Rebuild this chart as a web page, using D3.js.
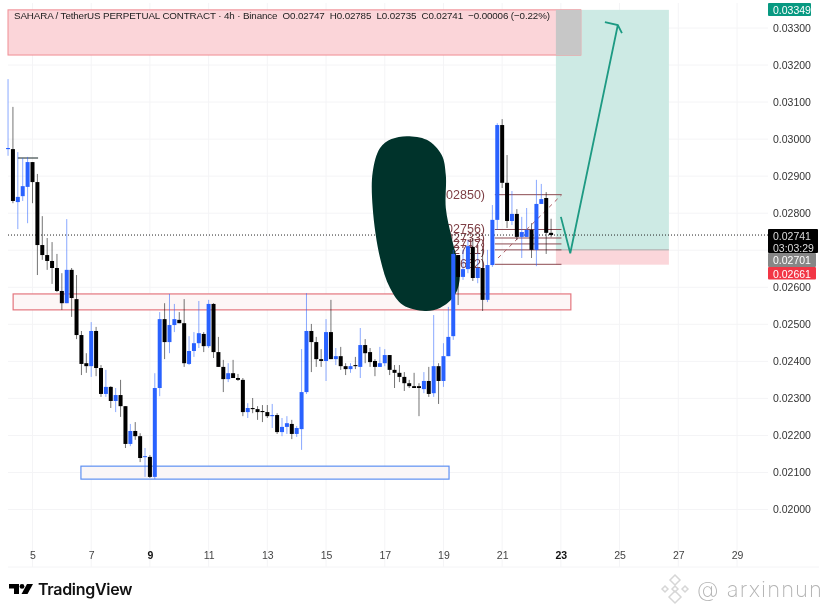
<!DOCTYPE html>
<html>
<head>
<meta charset="utf-8">
<script src="https://cdn.jsdelivr.net/npm/d3@7"></script>
<style>
  html, body { margin: 0; padding: 0; background: #fff; }
  svg { display: block; filter: blur(0.45px); font-family: "Liberation Sans", sans-serif; }
</style>
</head>
<body>
<div id="chart"></div>
<script>
// 4h candles, first one sits at firstDay and the rest follow every 1/6 day
var firstDay = 4.1667;
var opens = [
  0.02973,0.02973,0.02830,0.02846,0.02871,0.02938,0.02884,0.02714,0.02687,0.02671,
  0.02652,0.02590,0.02557,0.02647,0.02568,0.02471,0.02395,0.02387,0.02482,0.02382,
  0.02312,0.02331,0.02293,0.02309,0.02279,0.02177,0.02212,0.02198,0.02142,0.02142,
  0.02088,0.02328,0.02514,0.02452,0.02498,0.02512,0.02503,0.02393,0.02428,0.02449,
  0.02474,0.02441,0.02555,0.02425,0.02385,0.02352,0.02368,0.02355,0.02350,0.02263,
  0.02274,0.02271,0.02266,0.02263,0.02252,0.02255,0.02209,0.02223,0.02231,0.02204,
  0.02217,0.02317,0.02482,0.02452,0.02406,0.02401,0.02479,0.02406,0.02414,0.02387,
  0.02379,0.02390,0.02385,0.02444,0.02425,0.02401,0.02385,0.02395,0.02417,0.02377,
  0.02369,0.02358,0.02341,0.02333,0.02333,0.02325,0.02347,0.02314,0.02387,0.02347,
  0.02414,0.02468,0.02687,0.02628,0.02649,0.02709,0.02625,0.02652,0.02566,0.02660,
  0.02782,0.03038,0.02882,0.02779,0.02798,0.02736,0.02736,0.02755,0.02701,0.02825,
  0.02841,0.02747
];
var highs = [
  0.03162,0.03087,0.02965,0.02949,0.02952,0.02938,0.02906,0.02792,0.02733,0.02722,
  0.02690,0.02638,0.02784,0.02652,0.02633,0.02482,0.02422,0.02506,0.02493,0.02390,
  0.02377,0.02333,0.02328,0.02350,0.02279,0.02231,0.02236,0.02206,0.02166,0.02147,
  0.02368,0.02533,0.02557,0.02582,0.02555,0.02533,0.02568,0.02468,0.02479,0.02563,
  0.02479,0.02566,0.02557,0.02466,0.02404,0.02395,0.02404,0.02366,0.02355,0.02287,
  0.02301,0.02279,0.02282,0.02282,0.02285,0.02260,0.02247,0.02252,0.02242,0.02225,
  0.02433,0.02584,0.02501,0.02466,0.02433,0.02514,0.02566,0.02436,0.02439,0.02395,
  0.02395,0.02412,0.02490,0.02460,0.02436,0.02406,0.02439,0.02433,0.02417,0.02390,
  0.02390,0.02371,0.02350,0.02369,0.02341,0.02371,0.02385,0.02525,0.02395,0.02449,
  0.02547,0.02701,0.02687,0.02701,0.02728,0.02733,0.02692,0.02703,0.02701,0.02822,
  0.03043,0.03054,0.02957,0.02860,0.02811,0.02790,0.02814,0.02773,0.02890,0.02879,
  0.02857,0.02785
];
var lows = [
  0.02955,0.02827,0.02757,0.02833,0.02773,0.02827,0.02633,0.02674,0.02647,0.02609,
  0.02587,0.02539,0.02557,0.02520,0.02460,0.02363,0.02369,0.02358,0.02360,0.02304,
  0.02304,0.02274,0.02263,0.02250,0.02166,0.02171,0.02188,0.02128,0.02088,0.02085,
  0.02082,0.02306,0.02406,0.02422,0.02479,0.02503,0.02385,0.02390,0.02412,0.02436,
  0.02425,0.02436,0.02409,0.02385,0.02317,0.02344,0.02355,0.02347,0.02252,0.02247,
  0.02260,0.02242,0.02236,0.02247,0.02220,0.02204,0.02198,0.02204,0.02190,0.02196,
  0.02161,0.02312,0.02371,0.02385,0.02385,0.02347,0.02406,0.02390,0.02377,0.02363,
  0.02369,0.02379,0.02355,0.02395,0.02385,0.02360,0.02385,0.02387,0.02363,0.02328,
  0.02344,0.02320,0.02328,0.02328,0.02252,0.02314,0.02304,0.02304,0.02285,0.02331,
  0.02414,0.02458,0.02552,0.02620,0.02638,0.02617,0.02611,0.02536,0.02560,0.02655,
  0.02755,0.02868,0.02760,0.02768,0.02728,0.02679,0.02736,0.02679,0.02657,0.02825,
  0.02690,0.02735
];
var closes = [
  0.02976,0.02833,0.02844,0.02873,0.02938,0.02884,0.02714,0.02687,0.02671,0.02652,
  0.02590,0.02557,0.02647,0.02571,0.02471,0.02393,0.02387,0.02482,0.02382,0.02312,
  0.02331,0.02293,0.02309,0.02279,0.02177,0.02212,0.02198,0.02139,0.02144,0.02088,
  0.02328,0.02514,0.02452,0.02498,0.02514,0.02503,0.02395,0.02428,0.02449,0.02476,
  0.02441,0.02555,0.02425,0.02385,0.02352,0.02368,0.02355,0.02350,0.02263,0.02274,
  0.02271,0.02263,0.02263,0.02252,0.02255,0.02209,0.02223,0.02233,0.02204,0.02220,
  0.02317,0.02482,0.02452,0.02406,0.02401,0.02479,0.02406,0.02414,0.02387,0.02379,
  0.02387,0.02387,0.02444,0.02422,0.02398,0.02385,0.02395,0.02417,0.02377,0.02369,
  0.02358,0.02341,0.02333,0.02328,0.02328,0.02347,0.02312,0.02387,0.02347,0.02414,
  0.02466,0.02690,0.02628,0.02649,0.02711,0.02625,0.02652,0.02566,0.02660,0.02782,
  0.03038,0.02882,0.02779,0.02798,0.02736,0.02749,0.02755,0.02701,0.02825,0.02838,
  0.02747,0.02741
];

var dayTicks = [5, 7, 9, 11, 13, 15, 17, 19, 21, 23, 25, 27, 29];
var boldDays = [9, 23];
var priceTicks = [0.033, 0.032, 0.031, 0.03, 0.029, 0.028, 0.026, 0.025, 0.024, 0.023, 0.022, 0.021, 0.02];
var gridPrices = [0.033, 0.032, 0.031, 0.03, 0.029, 0.028, 0.027, 0.026, 0.025, 0.024, 0.023, 0.022, 0.021, 0.02];

// position tool levels, labels sit left of the lines
var fibPrices = [0.0285, 0.02756, 0.02733, 0.02717, 0.02701, 0.02662];

// drawings, as [day, price]
var blobOutline = [[17.75,0.03008],[18.43,0.02998],[18.94,0.02957],[19.08,0.02903],[19.08,0.02814],
  [19.28,0.02733],[19.56,0.02633],[19.39,0.02579],[18.88,0.02544],[18.37,0.02536],[17.62,0.02552],
  [17.18,0.02598],[16.84,0.02679],[16.59,0.02814],[16.59,0.02911],[16.84,0.02976],[17.23,0.03]];
var arrowDown = [[23.0,0.0279],[23.32,0.02692],[24.94,0.03308]];
var arrowHead = [[24.5,0.03316],[24.94,0.03308],[25.08,0.03286]];

var lastPrice = 0.02741;

var W = 829, H = 613;
var plotLeft = 8, plotRight = 768, plotTop = 3, plotBottom = 567;

var x = d3.scaleLinear().domain([5, 29]).range([32.5, 737]);
var y = d3.scaleLinear().domain([0.02, 0.033]).range([509.5, 28]);

var svg = d3.select('#chart').append('svg')
    .attr('width', W)
    .attr('height', H);

// grid
var grid = svg.append('g').attr('stroke', '#f4f4f6').attr('stroke-width', 1);
grid.selectAll('.v').data(dayTicks).enter().append('line')
    .attr('x1', function(d) { return x(d); })
    .attr('x2', function(d) { return x(d); })
    .attr('y1', plotTop).attr('y2', plotBottom);
grid.selectAll('.h').data(gridPrices).enter().append('line')
    .attr('x1', plotLeft).attr('x2', plotRight)
    .attr('y1', function(d) { return y(d); })
    .attr('y2', function(d) { return y(d); });
svg.append('line')
    .attr('x1', plotLeft).attr('x2', 819)
    .attr('y1', plotBottom).attr('y2', plotBottom)
    .attr('stroke', '#f4f4f6');

function zone(d0, d1, p0, p1, fill, stroke) {
    return svg.append('rect')
        .attr('x', x(d0))
        .attr('y', y(p0))
        .attr('width', x(d1) - x(d0))
        .attr('height', y(p1) - y(p0))
        .attr('fill', fill)
        .attr('stroke', stroke || 'none');
}

var dayLeft = x.invert(plotLeft);

// long position box
zone(22.83, 26.68, 0.03349, 0.02701, '#cdeae4');
zone(22.83, 26.68, 0.02701, 0.02661, '#fbd6da');
svg.append('line')
    .attr('x1', x(22.83)).attr('x2', x(26.68))
    .attr('y1', y(0.02701)).attr('y2', y(0.02701))
    .attr('stroke', '#a9a9a9');

// zones
zone(dayLeft, 23.68, 0.03349, 0.03227, '#fbd5d9', '#f08d94').attr('stroke-width', 1);
zone(22.83, 23.68, 0.03349, 0.03227, '#c7c7c7');
zone(4.34, 23.34, 0.02582, 0.02539, '#fdf6f6', '#e4767e').attr('stroke-width', 1.2);
zone(6.65, 19.19, 0.02117, 0.02082, '#faf6f7', '#5f90f2').attr('stroke-width', 1.2);

// small level at the far left
svg.append('line')
    .attr('x1', x(4.5)).attr('x2', x(5.19))
    .attr('y1', y(0.02949)).attr('y2', y(0.02949))
    .attr('stroke', '#3c4a4a').attr('stroke-width', 1.2);

// levels with their labels
svg.selectAll('.fib').data(fibPrices).enter().append('line')
    .attr('x1', x(20.75)).attr('x2', x(23.02))
    .attr('y1', function(d) { return y(d); })
    .attr('y2', function(d) { return y(d); })
    .attr('stroke', '#8c4a50').attr('stroke-width', 1);
svg.selectAll('.fibLabel').data(fibPrices).enter().append('text')
    .attr('x', 485)
    .attr('y', function(d) { return y(d) + 4; })
    .attr('text-anchor', 'end')
    .attr('font-size', 12.5)
    .attr('fill', '#7e3f45')
    .text(function(d) { return '(' + d.toFixed(5) + ')'; });
svg.append('line')
    .attr('x1', x(20.86)).attr('x2', x(23.03))
    .attr('y1', y(0.02679)).attr('y2', y(0.0285))
    .attr('stroke', '#a85a60')
    .attr('stroke-dasharray', '4 4');

// last price line
svg.append('line')
    .attr('x1', plotLeft).attr('x2', plotRight)
    .attr('y1', y(lastPrice)).attr('y2', y(lastPrice))
    .attr('stroke', '#222')
    .attr('stroke-dasharray', '1 2');

// dark scribble, it hides the labels but the candles stay on top
svg.append('path')
    .attr('d', d3.line()
        .x(function(d) { return x(d[0]); })
        .y(function(d) { return y(d[1]); })
        .curve(d3.curveCatmullRomClosed.alpha(0.5))(blobOutline))
    .attr('fill', '#00332b');

// candles
var candles = opens.map(function(o, i) {
    return {day: firstDay + i / 6, o: o, h: highs[i], l: lows[i], c: closes[i]};
});
function colour(d) { return d.c >= d.o ? '#2962ff' : '#000000'; }

var marks = svg.append('g').selectAll('g').data(candles).enter().append('g');
marks.append('line')
    .attr('x1', function(d) { return x(d.day); })
    .attr('x2', function(d) { return x(d.day); })
    .attr('y1', function(d) { return y(d.h); })
    .attr('y2', function(d) { return y(d.l); })
    .attr('stroke', colour)
    .attr('stroke-opacity', 0.55)
    .attr('stroke-width', 1);
marks.append('rect')
    .attr('x', function(d) { return x(d.day) - 2; })
    .attr('width', 4)
    .attr('y', function(d) { return y(Math.max(d.o, d.c)); })
    .attr('height', function(d) { return Math.max(1, y(Math.min(d.o, d.c)) - y(Math.max(d.o, d.c))); })
    .attr('fill', colour);

// arrows
var arrowLine = d3.line()
    .x(function(d) { return x(d[0]); })
    .y(function(d) { return y(d[1]); });
svg.selectAll('.arrow').data([arrowDown, arrowHead]).enter().append('path')
    .attr('d', arrowLine)
    .attr('fill', 'none')
    .attr('stroke', '#1d9a83')
    .attr('stroke-width', 1.8);

// title
svg.append('text')
    .attr('x', 14).attr('y', 19)
    .attr('font-size', 9.8)
    .attr('fill', '#222')
    .attr('xml:space', 'preserve')
    .attr('textLength', 536)
    .text('SAHARA / TetherUS PERPETUAL CONTRACT · 4h · Binance  O0.02747  H0.02785  L0.02735  C0.02741  −0.00006 (−0.22%)');

// axes
var yAxis = svg.append('g')
    .attr('transform', 'translate(772,0)')
    .call(d3.axisRight(y).tickValues(priceTicks).tickSize(0).tickFormat(d3.format('.5f')));
yAxis.select('.domain').remove();
yAxis.selectAll('text').attr('x', 1).attr('font-size', 10.5).attr('fill', '#333').attr('font-family', 'inherit');

var xAxis = svg.append('g')
    .attr('transform', 'translate(0,549)')
    .call(d3.axisBottom(x).tickValues(dayTicks).tickSize(0).tickFormat(d3.format('d')));
xAxis.select('.domain').remove();
xAxis.selectAll('text')
    .attr('font-size', 10.5)
    .attr('font-family', 'inherit')
    .attr('fill', function(d) { return boldDays.indexOf(d) >= 0 ? '#111' : '#444'; })
    .attr('font-weight', function(d) { return boldDays.indexOf(d) >= 0 ? 'bold' : 'normal'; });

// price badges
function badge(top, h, w, fill, lines, txt) {
    svg.append('rect')
        .attr('x', 768).attr('y', top)
        .attr('width', w).attr('height', h)
        .attr('rx', 1)
        .attr('fill', fill);
    lines.forEach(function(t, i) {
        svg.append('text')
            .attr('x', 773)
            .attr('y', top + 10.5 + i * 12)
            .attr('font-size', 10.5)
            .attr('fill', txt)
            .text(t);
    });
}
badge(3, 13, 43, '#089981', ['0.03349'], '#fff');
badge(229, 24, 50, '#000', ['0.02741', '03:03:29'], '#ddd');
badge(253, 14, 48, '#868686', ['0.02701'], '#fff');
badge(267, 12.5, 48, '#f23645', ['0.02661'], '#fff');

// TradingView logo
var logo = svg.append('g').attr('transform', 'translate(9,584)').attr('fill', '#000');
logo.append('path').attr('d', 'M0 0H10V10H5V4.5H0Z');
logo.append('circle').attr('cx', 13).attr('cy', 2.4).attr('r', 2.4);
logo.append('path').attr('d', 'M18 0H24L18.5 10H12.5Z');
svg.append('text')
    .attr('x', 38).attr('y', 595)
    .attr('font-family', 'Inter, sans-serif')
    .attr('font-size', 16)
    .attr('font-weight', 600)
    .attr('letter-spacing', -0.3)
    .attr('fill', '#111')
    .text('TradingView');

// watermark
var mark = svg.append('g')
    .attr('transform', 'translate(675,589)')
    .attr('fill', 'none')
    .attr('stroke', '#d6d6d6')
    .attr('stroke-width', 1.5);
[[0, -9, 5], [-10, 0, 3], [10, 0, 3], [0, 0, 3], [0, 8, 6]].forEach(function(s) {
    mark.append('path')
        .attr('d', 'M' + (s[0] - s[2]) + ' ' + s[1] + 'L' + s[0] + ' ' + (s[1] - s[2]) + 'L' + (s[0] + s[2]) + ' ' + s[1] + 'L' + s[0] + ' ' + (s[1] + s[2]) + 'Z');
});
svg.append('text')
    .attr('x', 697).attr('y', 597)
    .attr('font-size', 22)
    .attr('font-family', 'Inter, sans-serif')
    .attr('font-weight', 200)
    .attr('fill', '#b4b4b4')
    .attr('textLength', 125)
    .text('@ arxinnun');
</script>
</body>
</html>
